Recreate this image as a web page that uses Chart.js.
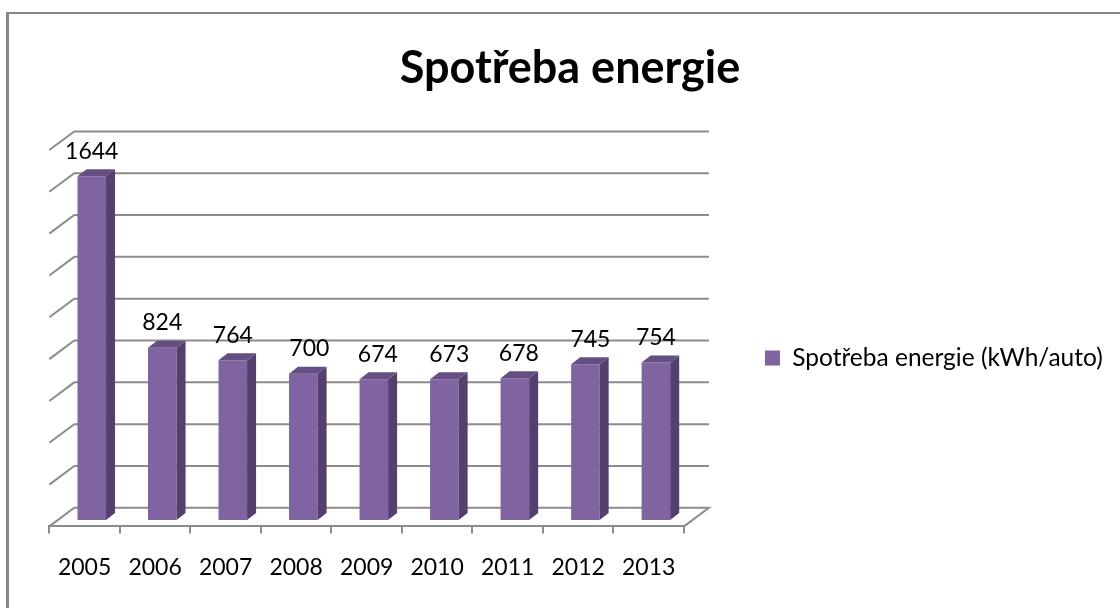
<!DOCTYPE html>
<html>
<head>
<meta charset="utf-8">
<script src="https://cdn.jsdelivr.net/npm/chart.js@4"></script>
<style>
  html, body { margin: 0; padding: 0; background: #fff; }
  #wrap { position: relative; width: 1120px; height: 608px; overflow: hidden; }
  #frame { position: absolute; left: 6px; top: 12px; width: 1130px; height: 640px; border-style: solid; border-color: #868686; border-width: 2px 0 0 3px; box-sizing: border-box; }
  canvas { position: absolute; left: 0; top: 0; }
</style>
</head>
<body>
<div id="wrap">
  <div id="frame"></div>
  <canvas id="chart" width="1120" height="608"></canvas>
</div>
<script>
const years  = ['2005', '2006', '2007', '2008', '2009', '2010', '2011', '2012', '2013'];
const values = [1644, 824, 764, 700, 674, 673, 678, 745, 754];
const seriesName = 'Spotřeba energie (kWh/auto)';
const chartTitle = 'Spotřeba energie';
const axisMax  = 1800;
const axisStep = 200;

const FONT = 'Lato, Carlito, sans-serif';
const GRID = '#8c8c8c';
const FRONT = '#8064a2', SIDE = '#543f6e', TOP = '#654f82';

// fake 3d: back wall sits behind the front plane of the scales, bars sit part way in
const wallDx = 25, wallDy = -18.6;
const barDx = 7.2, barDy = -6.3;
const depthX = 9, depthY = -7;

// the value labels are not quite centred over the bars in the original
const labelNudge = [0, 0, 0, 6, 4, 5, 4, 5, 0];

const fake3d = {
  id: 'fake3d',
  afterLayout(chart) {
    // legend goes where the original has it
    const lg = chart.legend;
    lg.left += 22; lg.right += 22;
    lg.top += 37; lg.bottom += 37;
  },
  beforeDatasetsDraw(chart) {
    const { ctx, chartArea: a, scales: { y } } = chart;
    ctx.save();
    ctx.strokeStyle = GRID;
    ctx.lineWidth = 2;
    y.ticks.forEach(t => {
      const py = y.getPixelForValue(t.value);
      ctx.beginPath();
      ctx.moveTo(a.left, py);
      ctx.lineTo(a.left + wallDx, py + wallDy);
      ctx.lineTo(a.right + wallDx, py + wallDy);
      if (t.value === 0) ctx.lineTo(a.right, py);
      ctx.stroke();
    });
    ctx.restore();
    ctx.save();
    ctx.translate(barDx, barDy);
  },
  afterDatasetsDraw(chart) {
    const { ctx } = chart;
    const bars = chart.getDatasetMeta(0).data;
    bars.forEach(b => {
      const l = b.x - b.width / 2, r = b.x + b.width / 2;
      ctx.fillStyle = SIDE;
      ctx.beginPath();
      ctx.moveTo(r, b.y);
      ctx.lineTo(r + depthX, b.y + depthY);
      ctx.lineTo(r + depthX, b.base + depthY);
      ctx.lineTo(r, b.base);
      ctx.closePath();
      ctx.fill();
      ctx.fillStyle = TOP;
      ctx.beginPath();
      ctx.moveTo(l, b.y);
      ctx.lineTo(l + depthX, b.y + depthY);
      ctx.lineTo(r + depthX, b.y + depthY);
      ctx.lineTo(r, b.y);
      ctx.closePath();
      ctx.fill();
    });
    ctx.restore();

    ctx.save();
    ctx.fillStyle = '#000';
    ctx.font = '23px ' + FONT;
    ctx.textAlign = 'center';
    ctx.textBaseline = 'middle';
    bars.forEach((b, i) => {
      ctx.fillText(String(values[i]), b.x + barDx + labelNudge[i], b.y + barDy - 25);
    });
    ctx.restore();
  }
};

new Chart(document.getElementById('chart'), {
  type: 'bar',
  data: {
    labels: years,
    datasets: [{
      label: seriesName,
      data: values,
      backgroundColor: FRONT,
      categoryPercentage: 1,
      barPercentage: 0.405
    }]
  },
  options: {
    responsive: false,
    animation: false,
    layout: { padding: { left: 49.3, right: 29.3, top: 41, bottom: 7 } },
    plugins: {
      tooltip: { enabled: false },
      title: {
        display: true,
        text: chartTitle,
        color: '#000',
        font: { family: FONT, size: 45, weight: 'bold' },
        padding: { top: 0, bottom: 55 }
      },
      legend: {
        position: 'right',
        labels: {
          color: '#000',
          font: { family: FONT, size: 24.5 },
          boxWidth: 15,
          boxHeight: 15,
          padding: 59
        }
      }
    },
    scales: {
      x: {
        grid: { display: true, drawOnChartArea: false, color: GRID, lineWidth: 2, tickLength: 7 },
        border: { display: true, color: GRID, width: 2 },
        ticks: { color: '#000', font: { family: FONT, size: 23 }, padding: 20, maxRotation: 0 }
      },
      y: {
        display: false,
        min: 0,
        max: axisMax,
        ticks: { stepSize: axisStep }
      }
    }
  },
  plugins: [fake3d]
});
</script>
</body>
</html>
